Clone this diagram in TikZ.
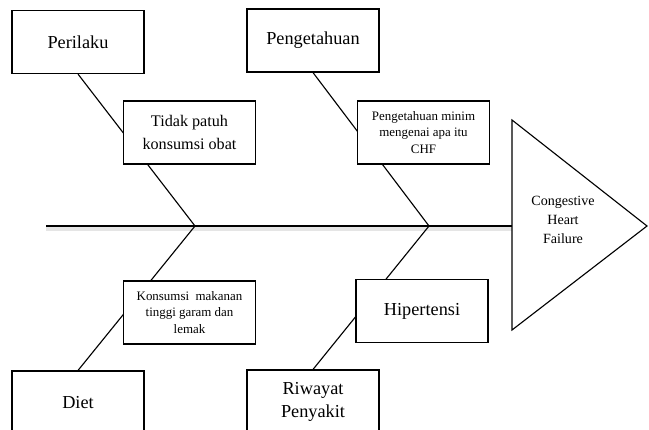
\documentclass[tikz,border=0pt]{standalone}
\usepackage{fontspec}
\setmainfont{Liberation Serif}

\begin{document}
\begin{tikzpicture}[x=0.025cm, y=-0.025cm, line width=0.8pt,
    kotak/.style={draw, fill=white, minimum width=3.3cm, minimum height=1.575cm, align=center, inner sep=2pt},
    besar/.style={font=\fontsize{13}{16.3}\selectfont},
    sedang/.style={font=\fontsize{11.5}{17}\selectfont},
    kecil/.style={font=\fontsize{9.2}{11.8}\selectfont}]
    \clip (0,0) rectangle (649,429);

    % Kategori penyebab
    \node[kotak, besar] (perilaku) at (78,42) {Perilaku};
    \node[kotak, besar] (pengetahuan) at (313,40.5) {Pengetahuan};
    \node[kotak, besar] (diet) at (78,402.5) {Diet};
    \node[kotak, besar] (riwayat) at (313,401.5) {Riwayat\\Penyakit};

    % Tulang utama dan kepala ikan
    \coordinate (ekor) at (46,226);
    \coordinate (v1) at (195,226);
    \coordinate (v2) at (429,226);
    \coordinate (segitiga) at (512,226);
    \draw[black!10, line width=2.5pt] ([yshift=-2pt]ekor) -- ([yshift=-2pt]segitiga);
    \draw (ekor) -- (segitiga);
    \draw (512,120) -- (647,226) -- (512,330) -- cycle;
    \node[align=center, font=\fontsize{10}{13.5}\selectfont] (chf) at (563,220) {Congestive\\Heart\\Failure};

    % Tulang cabang
    \draw (v1) -- (perilaku.south);
    \draw (v2) -- (pengetahuan.south);
    \draw (v1) -- (diet.north);
    \draw (v2) -- (riwayat.north);

    % Sub penyebab (menutupi garis)
    \node[kotak, sedang] (obat) at (189.5,132.5) {Tidak patuh\\konsumsi obat};
    \node[kotak, kecil] (minim) at (423.5,132.5) {Pengetahuan minim\\mengenai apa itu\\CHF};
    \node[kotak, kecil] (makanan) at (189.5,312.5) {Konsumsi\ \ makanan\\tinggi garam dan\\lemak};
    \node[kotak, besar] (hipertensi) at (422,311) {Hipertensi};

\end{tikzpicture}
\end{document}
